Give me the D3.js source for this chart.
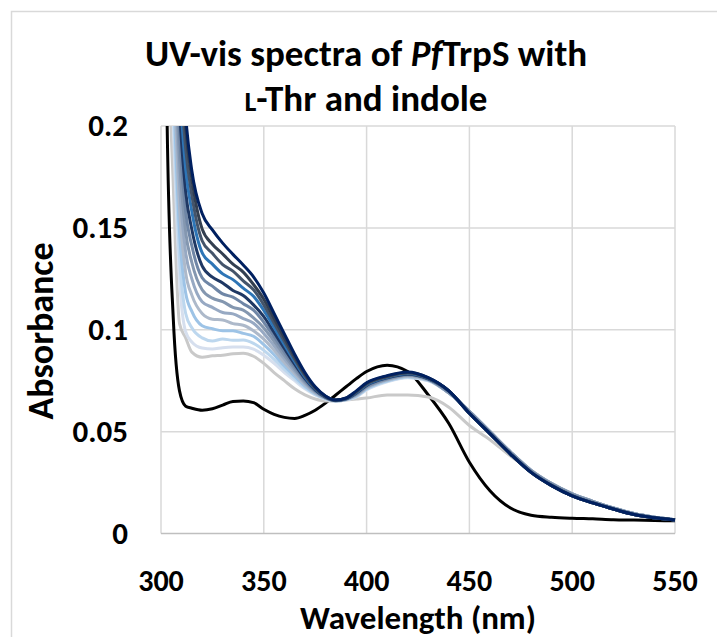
<!DOCTYPE html>
<html>
<head>
<meta charset="utf-8">
<script src="https://cdn.jsdelivr.net/npm/d3@7"></script>
<style>
  body { margin: 0; background: #fff; }
  text { font-family: Carlito, Calibri, Lato, sans-serif; font-weight: bold; fill: #000; }
</style>
</head>
<body>
<div id="chart"></div>
<script>
// wavelength grid (nm) shared by all spectra
const wavelengths = [300, 303, 306, 309, 312, 315, 320, 325, 330, 335, 340, 345, 350, 355, 360, 365, 370, 375, 380, 385, 390, 395, 400,
  410, 420, 430, 440, 450, 460, 470, 480, 490, 500, 510, 520, 530, 540, 550];

// absorbance values
const enzymeOnly = [.5, .2, .105, .07, .0625, .0615, .0605, .0612, .063, .0648, .065, .0642, .061, .0585, .057, .0565, .058, .0605, .064, .068, .072, .076, .0795,
  .0826, .0795, .068, .054, .035, .021, .0125, .009, .008, .0075, .0072, .0068, .0066, .0064, .0062];
const withThr = [.5, .27, .17, .103, .096, .089, .0865, .0872, .0875, .0882, .0885, .087, .0835, .079, .075, .071, .068, .066, .065, .065, .0655, .066, .0665,
  .068, .068, .067, .062, .053, .046, .038, .031, .0245, .0195, .0158, .0125, .0098, .008, .0068];
const indole1 = [.5, .30, .20, .125, .099, .094, .091, .0905, .0912, .0915, .0915, .0905, .0875, .0835, .079, .075, .071, .068, .066, .065, .0655, .067, .0705,
  .0745, .0765, .075, .069, .060, .050, .040, .031, .0245, .0195, .0158, .0125, .0098, .008, .0068];
const indole2 = [.5, .308, .210, .136, .108, .101, .096, .0945, .0955, .0948, .0950, .0933, .0899, .0855, .0805, .076, .0716, .0683, .0661, .065, .0656, .0672, .0708,
  .0747, .0767, .0751, .069, .060, .050, .040, .031, .0245, .0195, .0158, .0125, .0098, .008, .0068];
const indole3 = [.5, .317, .222, .148, .118, .109, .102, .1005, .0995, .0995, .0982, .0968, .0927, .0877, .0822, .0772, .0724, .0687, .0663, .0651, .0657, .0675, .0711,
  .075, .077, .0753, .069, .060, .050, .040, .031, .0245, .0195, .0158, .0125, .0098, .008, .0068];
const indole4 = [.5, .326, .234, .160, .128, .117, .108, .1052, .1048, .1030, .1022, .0995, .0954, .0899, .0839, .0784, .0731, .069, .0664, .0651, .0658, .0678, .0714,
  .0753, .0772, .0754, .069, .060, .050, .040, .031, .0245, .0195, .0158, .0125, .0098, .008, .0068];
const indole5 = [.5, .335, .2455, .172, .138, .125, .1138, .1110, .1085, .1078, .1055, .1032, .0982, .0921, .0857, .0796, .0738, .0694, .0665, .0652, .0659, .0681, .0717,
  .0756, .0775, .0755, .069, .060, .050, .040, .031, .0245, .0195, .0158, .0125, .0098, .008, .0068];
const indole6 = [.5, .344, .257, .184, .148, .133, .1196, .1155, .1138, .1110, .1096, .1058, .1009, .0943, .0874, .0807, .0745, .0698, .0667, .0652, .0659, .0683, .072,
  .0758, .0777, .0757, .069, .060, .050, .040, .031, .0245, .0195, .0158, .0125, .0098, .008, .0068];
const indole7 = [.5, .353, .269, .1966, .1578, .1412, .1255, .1214, .1176, .1160, .1128, .1096, .1037, .0965, .0891, .0819, .0752, .0701, .0668, .0653, .066, .0686, .0724,
  .0761, .078, .0758, .0695, .0595, .0495, .0395, .0305, .024, .019, .0154, .0122, .0095, .0078, .0067];
const indole8 = [.5, .362, .2806, .2087, .1678, .1492, .1313, .1258, .1230, .1193, .1168, .1122, .1064, .0987, .0908, .0831, .076, .0705, .0669, .0653, .0661, .0689, .0727,
  .0764, .0782, .0759, .070, .059, .049, .039, .030, .0235, .0185, .015, .012, .0093, .0077, .0066];
const indole9 = [.5, .372, .2936, .2222, .1789, .1581, .1378, .1322, .1274, .1246, .1204, .1164, .1095, .1011, .0927, .0844, .0768, .0709, .0671, .0654, .0662, .0692, .073,
  .0767, .0785, .0761, .070, .059, .049, .039, .030, .0235, .0185, .015, .012, .0093, .0077, .0066];
const indole10 = [.5, .381, .3053, .2344, .1889, .1661, .1437, .1375, .1320, .1288, .1240, .1196, .1122, .1033, .0944, .0855, .0775, .0712, .0672, .0654, .0663, .0694, .0733,
  .0769, .0788, .0762, .070, .059, .049, .039, .030, .0235, .0185, .015, .012, .0093, .0077, .0066];
const indole11 = [.5, .39, .317, .2465, .1989, .1741, .1495, .1420, .1372, .1322, .1283, .1222, .115, .1056, .0961, .0867, .0782, .0716, .0674, .0655, .0664, .0697, .0737,
  .0772, .079, .0764, .070, .059, .049, .039, .030, .0235, .0185, .015, .012, .0093, .0077, .0066];
const indole12 = [.5, .40, .33, .26, .205, .178, .157, .149, .1425, .137, .1318, .126, .118, .108, .098, .088, .079, .072, .0675, .0655, .0665, .070, .074,
  .0775, .0793, .0765, .070, .059, .049, .039, .030, .0235, .0185, .015, .012, .0093, .0077, .0066];

const seriesValues = [enzymeOnly, withThr, indole1, indole2, indole3, indole4, indole5, indole6,
  indole7, indole8, indole9, indole10, indole11, indole12];
const seriesColors = ["#000000", "#c9c9c9", "#d6dfee", "#bdd7ee", "#9dc3e6", "#adb9ca", "#97a9c3", "#8497b0",
  "#6f86a6", "#1f3864", "#2e75b6", "#44546a", "#333f50", "#002060"];

const xTicks = [300, 350, 400, 450, 500, 550];
const yTicks = [0, 0.05, 0.1, 0.15, 0.2];
const yTickLabels = ["0", "0.05", "0.1", "0.15", "0.2"];

const width = 717, height = 637;
const plot = { left: 161, right: 675, top: 126, bottom: 533.5 };

const svg = d3.select("#chart").append("svg")
  .attr("width", width)
  .attr("height", height);

svg.append("rect")
  .attr("width", width).attr("height", height)
  .attr("fill", "#fff");

// chart border (runs past the picture edge on the right and bottom)
svg.append("rect")
  .attr("x", 11.5).attr("y", 11.5)
  .attr("width", 800).attr("height", 800)
  .attr("fill", "none")
  .attr("stroke", "#d9d9d9")
  .attr("stroke-width", 1.5);

const x = d3.scaleLinear().domain([300, 550]).range([plot.left, plot.right]);
const y = d3.scaleLinear().domain([0, 0.2]).range([plot.bottom, plot.top]);

// gridlines
svg.append("g")
  .selectAll("line.v")
  .data(xTicks)
  .enter().append("line")
  .attr("x1", d => x(d)).attr("x2", d => x(d))
  .attr("y1", plot.top).attr("y2", plot.bottom)
  .attr("stroke", "#d9d9d9").attr("stroke-width", 1.5);

svg.append("g")
  .selectAll("line.h")
  .data(yTicks)
  .enter().append("line")
  .attr("x1", plot.left).attr("x2", plot.right)
  .attr("y1", d => y(d)).attr("y2", d => y(d))
  .attr("stroke", d => d === 0 ? "#bfbfbf" : "#d9d9d9").attr("stroke-width", 1.5);

// tick labels
svg.append("g")
  .selectAll("text")
  .data(yTicks)
  .enter().append("text")
  .attr("x", 128)
  .attr("y", d => y(d))
  .attr("dy", "0.33em")
  .attr("text-anchor", "end")
  .style("font-size", "31px")
  .text((d, i) => yTickLabels[i]);

svg.append("g")
  .selectAll("text")
  .data(xTicks)
  .enter().append("text")
  .attr("x", d => x(d))
  .attr("y", 591)
  .attr("text-anchor", "middle")
  .style("font-size", "30px")
  .text(d => d);

// spectra
svg.append("clipPath").attr("id", "clip")
  .append("rect")
  .attr("x", plot.left).attr("y", plot.top)
  .attr("width", plot.right - plot.left + 4)
  .attr("height", plot.bottom - plot.top);

const line = d3.line()
  .x((d, i) => x(wavelengths[i]))
  .y(d => y(d))
  .curve(d3.curveMonotoneX);

svg.append("g")
  .attr("clip-path", "url(#clip)")
  .selectAll("path")
  .data(seriesValues)
  .enter().append("path")
  .attr("d", d => line(d))
  .attr("fill", "none")
  .attr("stroke", (d, i) => seriesColors[i])
  .attr("stroke-width", 3)
  .attr("stroke-linejoin", "round");

// title
const title = svg.append("text")
  .attr("x", 366)
  .attr("y", 66)
  .attr("text-anchor", "middle")
  .style("font-size", "37px");
title.append("tspan").text("UV-vis spectra of ");
title.append("tspan").style("font-style", "italic").text("Pf");
title.append("tspan").text("TrpS with");

const title2 = svg.append("text")
  .attr("x", 366)
  .attr("y", 111)
  .attr("text-anchor", "middle")
  .style("font-size", "37px");
title2.append("tspan").style("font-size", "28px").text("L");
title2.append("tspan").text("-Thr and indole");

// axis titles
svg.append("text")
  .attr("transform", "translate(53," + 331 + ") rotate(-90)")
  .attr("text-anchor", "middle")
  .style("font-size", "36px")
  .text("Absorbance");

svg.append("text")
  .attr("x", (plot.left + plot.right) / 2)
  .attr("y", 629)
  .attr("text-anchor", "middle")
  .style("font-size", "33px")
  .text("Wavelength (nm)");
</script>
</body>
</html>
